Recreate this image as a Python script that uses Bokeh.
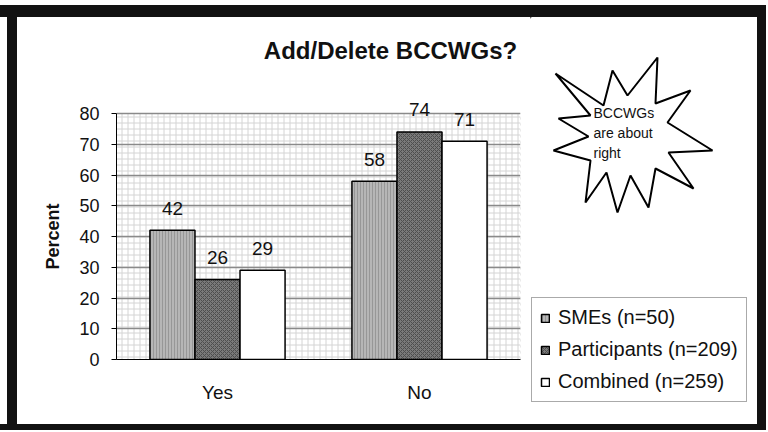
import math
from bokeh.plotting import figure
from bokeh.layouts import row, column
from bokeh.models import (ColumnDataSource, FactorRange, LabelSet, Label, Legend, LegendItem,
                          BoxAnnotation, FixedTicker, Range1d, Spacer)
from bokeh.transform import dodge
from bokeh.core.properties import value
from bokeh.embed import file_html
from bokeh.resources import INLINE

# ---- data ----
title_text = "Add/Delete BCCWGs?"
categories = ["Yes", "No"]
series_names = ["SMEs (n=50)", "Participants (n=209)", "Combined (n=259)"]
smes = [42, 58]
participants = [26, 74]
combined = [29, 71]
y_ticks = [0, 10, 20, 30, 40, 50, 60, 70, 80]
y_max = 80
y_label = "Percent"
callout_lines = ["BCCWGs", "are about", "right"]

FONT = "Liberation Sans"
INK = "#111111"
FRAME = "#121212"

src = ColumnDataSource(dict(
    cat=categories,
    smes=smes, participants=participants, combined=combined,
    smes_t=[str(v) for v in smes],
    participants_t=[str(v) for v in participants],
    combined_t=[str(v) for v in combined],
))

H = 407
Y0, Y1 = 17, 424          # page rows covered by the canvases


def deco_figure(x0, x1):
    """A canvas whose whole area is the frame, in page-pixel coordinates."""
    f = figure(width=x1 - x0, height=H, x_range=Range1d(x0, x1), y_range=Range1d(Y1, Y0),
               output_backend="svg", toolbar_location=None, min_border=0,
               x_axis_location=None, y_axis_location=None)
    f.frame_align = False
    f.title.visible = False
    f.grid.visible = False
    f.outline_line_color = None
    f.background_fill_color = "white"
    f.border_fill_color = "white"
    return f


# ---------------- left strip: y-axis title ----------------
L0, L1 = 17, 70
r = deco_figure(L0, L1)
r.text(x=[52], y=[236], text=[y_label], angle=math.pi / 2, text_align="center",
       text_baseline="middle", text_font=value(FONT), text_font_size="18px",
       text_font_style="bold", text_color=INK)

# ---------------- main chart ----------------
B_BOTTOM = 65
frame_h = H - B_BOTTOM     # frame reaches the top of the canvas; 0..80 occupies 246 px
p = figure(x_range=FactorRange(*categories),
           y_range=Range1d(0, y_max * frame_h / 246),
           width=530 - L1, height=H, output_backend="svg", toolbar_location=None,
           min_border_left=116 - L1, min_border_right=10, min_border_top=0,
           min_border_bottom=B_BOTTOM)
p.frame_align = False
p.title.visible = False
p.background_fill_color = "white"
p.border_fill_color = "white"
p.outline_line_color = None

# plot-area background with fine grid pattern and dotted edge
p.add_layout(BoxAnnotation(bottom=0, top=y_max, fill_color="white", fill_alpha=1,
                           line_color="#6f6f6f", line_dash="dotted", line_width=1,
                           hatch_pattern="+", hatch_color="#d4d4d4", hatch_scale=6,
                           hatch_weight=1, level="image"))

p.xgrid.visible = False
p.ygrid.grid_line_color = "#8a8a8a"
p.ygrid.grid_line_width = 1.5
p.ygrid.ticker = FixedTicker(ticks=y_ticks)

W = 0.223
specs = [
    ("smes", -W, dict(fill_color="#b6b6b6", hatch_pattern="|", hatch_color="#979797",
                      hatch_scale=3, hatch_weight=1)),
    ("participants", 0.0, dict(fill_color="#7a7a7a", hatch_pattern="x", hatch_color="#4e4e4e",
                               hatch_scale=4, hatch_weight=1)),
    ("combined", W, dict(fill_color="white")),
]
for col, off, style in specs:
    p.vbar(x=dodge("cat", off, range=p.x_range), top=col, width=W, source=src,
           line_color="black", line_width=1.5, **style)
    p.add_layout(LabelSet(x=dodge("cat", off, range=p.x_range), y=col, text=col + "_t",
                          source=src, text_align="center", text_baseline="middle",
                          y_offset=22, text_font=value(FONT), text_font_size="19px",
                          text_color=INK))

# chart title (screen px from the frame's bottom-left corner)
p.add_layout(Label(x=274, y=309, x_units="screen", y_units="screen", text=title_text,
                   text_align="center", text_baseline="middle", text_font=FONT,
                   text_font_size="24px", text_font_style="bold", text_color=INK))

p.yaxis.ticker = FixedTicker(ticks=y_ticks)
p.yaxis.bounds = (0, y_max)
p.yaxis.major_label_text_font = FONT
p.yaxis.major_label_text_font_size = "18px"
p.yaxis.major_label_text_color = INK
p.yaxis.major_label_standoff = 12
p.yaxis.major_tick_out = 5
p.yaxis.major_tick_in = 0
p.yaxis.minor_tick_out = 0
p.yaxis.minor_tick_in = 0
p.yaxis.axis_line_color = "black"
p.yaxis.major_tick_line_color = "black"

p.xaxis.major_label_text_font = FONT
p.xaxis.major_label_text_font_size = "19px"
p.xaxis.major_label_text_color = INK
p.xaxis.major_label_standoff = 22
p.xaxis.major_tick_out = 0
p.xaxis.major_tick_in = 0
p.xaxis.axis_line_color = "black"

# ---------------- right side: callout star + legend ----------------
X0, X1 = 530, 757
q = deco_figure(X0, X1)

star_x = [555, 603, 612, 627, 657, 655, 690, 667, 712, 668, 693, 655,
          648, 630, 617, 606, 585, 590, 553, 588, 558, 590]
star_y = [73, 105, 70, 95, 57, 103, 90, 122, 150, 152, 188, 168,
          207, 175, 212, 172, 202, 160, 150, 136, 118, 115]
q.patch(star_x, star_y, fill_color="white", line_color="black", line_width=2)
q.text(x=[593, 593, 593], y=[112, 132, 152], text=callout_lines, text_font=value(FONT),
       text_font_size="14px", text_color=INK, text_baseline="middle", text_align="left")

# legend proxies (kept outside the visible range of this canvas)
legend_renderers = []
for col, off, style in specs:
    lr = q.vbar(x=[X0 - 100], top=[Y0], width=1, line_color="black", line_width=1.5, **style)
    legend_renderers.append(lr)
legend = Legend(items=[LegendItem(label=n, renderers=[lr])
                       for n, lr in zip(series_names, legend_renderers)],
                location=(531 - X0, Y1 - 402), label_text_font=FONT,
                label_text_font_size="20px", label_text_color=INK,
                glyph_width=10, glyph_height=10, label_standoff=8, label_height=20,
                spacing=9, padding=8, margin=0,
                border_line_color="#555555", border_line_width=1,
                background_fill_color="white", background_fill_alpha=1)
q.add_layout(legend)

# ---------------- black frame round the chart ----------------
def bar(w, h, color=FRAME):
    return Spacer(width=w, height=h, margin=0, styles={"background-color": color})

layout = column(bar(766, 5, "white"),
                bar(766, 12),
                row(bar(7, H, "white"), bar(10, H), r, p, q, bar(9, H), spacing=0),
                bar(766, 6), spacing=0)

open("out.html", "w").write(file_html(layout, INLINE))
